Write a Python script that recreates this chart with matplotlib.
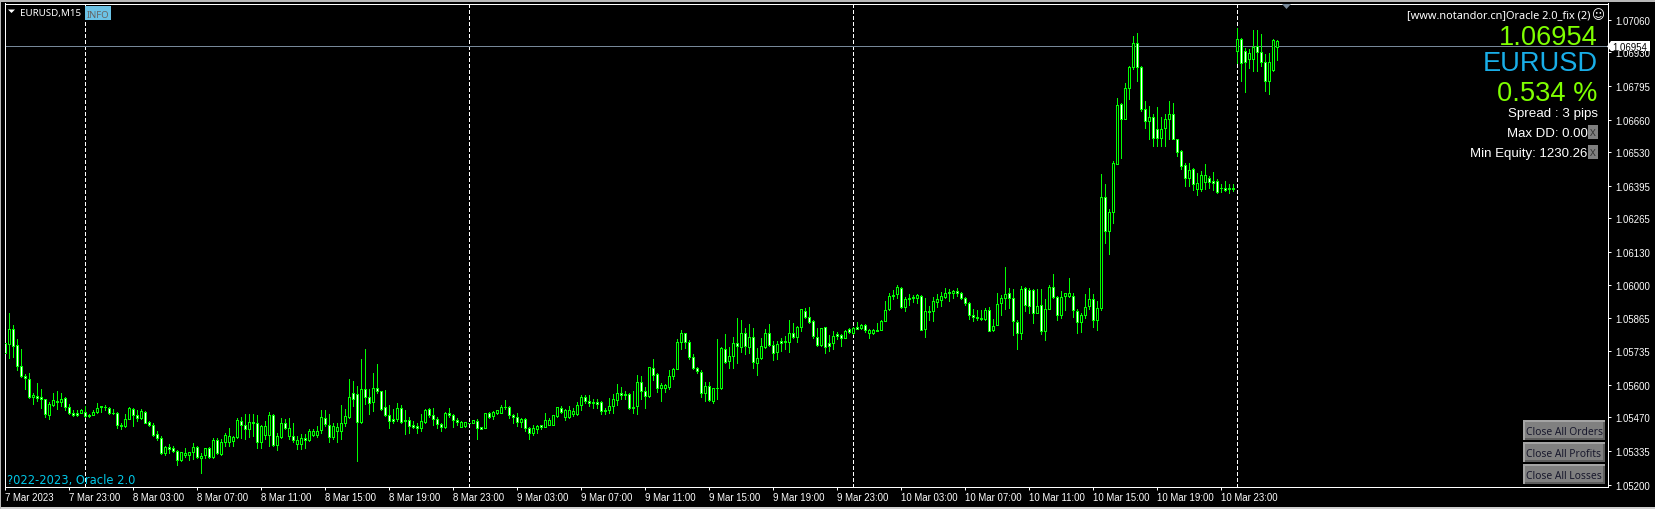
import matplotlib
matplotlib.use("Agg")
import matplotlib.pyplot as plt
import numpy as np
from matplotlib.patches import Polygon, Rectangle

W, H = 1655, 510
FONT = ["Liberation Sans", "DejaVu Sans"]
UI = ["Noto Sans", "DejaVu Sans"]
AX = ["Liberation Sans", "DejaVu Sans"]

# Prices are stored as points above 1.05000 (1 point = 0.00001)
highs = [
 774,885,837,784,741,641,645,565,605,581, 544,530,568,576,565,552,521,498,498,501,
 514,482,498,528,514,517,509,501,489,448, 481,509,508,498,504,496,454,445,414,394,
 354,361,354,338,332,348,332,368,354,325, 348,350,388,388,381,405,428,394,468,472,
 481,484,481,477,437,454,490,481,405,468, 461,468,448,394,401,401,421,424,434,497,
 498,481,448,448,517,501,621,614,594,704, 741,584,645,681,574,577,517,501,525,517,
 497,472,454,448,481,501,508,508,472,445, 490,505,481,468,454,452,448,460,464,432,
 488,490,494,498,517,537,513,484,485,465, 465,429,437,440,440,488,468,480,512,514,
 501,514,508,530,557,560,557,541,544,534, 508,548,561,601,590,574,565,574,637,634,
 592,672,701,645,605,604,657,665,781,817, 805,777,721,670,657,610,610,588,781,750,
 801,752,792,868,857,828,841,828,748,788, 821,841,774,774,788,794,857,848,834,904,
 908,912,858,828,828,832,798,814,812,804,817,825,830,852,844,841,824,821,848,857,
 933,968,978,997,992,952,961,957,961,957, 948,914,950,961,970,985,984,978,988,972,
 952,932,901,898,897,905,912,861,965,960, 1069,988,981,857,994,990,988,981,981,984,
 941,997,1041,954,974,968,1025,965,901,885, 961,988,961,933,1441,1401,1301,1494,1745,1725,
 1808,1874,1994,2005,1874,1734,1714,1681,1712,1672, 1681,1734,1728,1584,1538,1488,1488,1468,1448,1454,
 1481,1434,1450,1421,1404,1414,1404,1401,2028,1988, 1948,1941,2018,2018,2001,1921,1928,1984,1978,
]
body_tops = [
 765,821,821,757,674,634,624,560,554,549, 544,521,540,536,544,545,512,488,485,498,
 492,480,492,508,513,512,508,488,488,440, 464,508,504,477,493,492,450,440,404,388,
 352,350,345,336,329,328,329,350,352,314, 348,348,380,380,372,400,396,392,457,456,
 440,452,452,448,433,433,478,480,393,448, 448,428,394,378,388,388,413,416,416,472,
 468,440,433,432,448,474,549,565,564,581, 584,552,588,588,574,512,478,461,508,508,
 460,460,437,434,454,497,501,477,461,444, 488,488,480,460,452,449,448,460,456,430,
 485,485,489,497,512,512,512,480,472,464, 464,428,425,436,437,457,458,477,509,508,
 497,497,496,518,552,552,533,529,529,532, 500,516,541,568,568,564,562,512,612,612,
 574,669,668,644,600,600,636,664,769,805, 805,772,712,666,652,596,594,586,588,748,
 744,714,768,768,808,808,792,792,706,756, 808,808,760,764,773,774,808,808,832,901,
 896,872,856,792,828,829,768,796,801,800,816,821,825,829,840,840,820,817,820,856,
 900,956,958,992,988,944,945,949,957,954, 893,896,933,941,953,968,970,976,976,968,
 948,928,880,872,868,900,900,836,924,948, 964,968,948,852,984,988,980,980,916,920,
 904,992,992,952,952,968,968,956,896,880, 910,942,944,908,1352,1352,1292,1488,1717,1721,
 1785,1872,1968,1968,1872,1701,1672,1672,1621,1624, 1664,1684,1684,1584,1536,1478,1460,1461,1405,1438,
 1438,1428,1414,1413,1388,1388,1385,1388,1984,1984, 1934,1928,1950,1954,1932,1892,1892,1978,1976,
]
body_bottoms = [
 728,761,754,674,634,626,552,552,548,541, 481,478,518,530,530,512,485,478,480,488,
 474,474,480,492,510,509,485,486,437,436, 433,464,477,466,466,448,440,400,386,325,
 325,341,336,298,298,320,318,330,309,306, 317,312,309,325,322,369,370,374,390,437,
 421,421,446,370,370,400,400,357,357,390, 426,394,377,362,361,380,377,400,400,418,
 441,390,390,414,416,446,472,544,450,450, 550,525,530,573,504,477,454,454,464,450,
 454,434,432,428,425,450,478,461,441,432, 429,478,458,449,432,433,445,445,425,424,
 428,472,473,486,488,509,477,470,449,449, 425,405,408,421,432,429,438,438,474,492,
 472,472,481,481,518,534,525,525,522,494, 494,497,514,537,557,558,506,505,514,574,
 554,554,638,586,586,586,592,633,662,769, 769,709,665,653,565,566,537,536,586,586,
 690,693,714,754,750,754,752,690,685,706, 749,758,726,729,766,769,769,789,789,832,
 870,850,794,757,758,750,753,766,796,786,786,812,806,822,826,818,806,805,814,818,
 856,902,953,962,910,910,942,945,946,818, 822,890,894,929,938,950,968,966,966,945,
 928,878,870,865,861,864,816,817,838,926, 946,945,854,806,806,918,914,886,886,814,
 814,902,952,878,877,954,954,898,850,850, 877,913,858,858,908,1214,1214,1292,1484,1664,
 1664,1785,1870,1870,1701,1654,1654,1586,1586,1586, 1625,1664,1584,1530,1474,1428,1428,1404,1381,1381,
 1410,1410,1408,1372,1385,1378,1381,1382,1934,1888, 1890,1904,1904,1932,1892,1814,1814,1858,1950,
]
lows = [
 705,708,710,658,632,581,546,521,534,508, 472,461,514,501,514,498,482,474,474,485,
 472,472,477,488,490,498,481,484,428,421, 432,461,434,454,461,445,434,394,378,321,
 317,328,330,277,294,312,297,301,305,245, 308,308,305,321,320,354,354,354,388,388,
 384,392,394,348,348,384,354,354,338,386, 421,384,370,341,341,348,374,394,390,408,
 434,370,381,370,381,434,468,514,294,448, 521,481,494,568,498,474,428,448,454,448,
 401,408,428,408,414,448,472,437,428,413, 426,472,432,437,429,429,445,445,381,424,
 426,466,461,484,485,501,468,445,434,432, 414,381,400,408,421,429,437,437,472,488,
 458,468,474,478,497,528,514,508,506,481, 481,488,488,517,541,541,504,488,481,541,
 505,552,618,570,534,570,581,621,661,744, 748,704,661,648,552,536,536,525,541,584,
 688,668,665,688,730,721,728,668,637,704, 746,754,697,704,734,741,730,788,770,814,
 868,848,788,754,754,728,734,741,781,754,785,808,804,821,824,810,786,801,813,817,
 853,898,944,945,908,893,918,932,925,817, 790,857,853,910,914,948,934,945,954,941,
 917,861,853,858,857,857,813,814,837,877, 904,905,797,741,781,893,885,845,885,801,
 777,901,948,857,866,897,952,869,805,809, 866,901,829,817,898,1168,1121,1248,1481,1508,
 1664,1741,1861,1814,1694,1628,1581,1554,1554,1554, 1554,1581,1581,1514,1461,1394,1394,1377,1358,1374,
 1381,1388,1378,1368,1370,1374,1368,1374,1888,1814, 1770,1868,1854,1854,1874,1774,1761,1854,1898,
]
# W = falling bar (white body), B = rising bar (black body)
directions = (
 "WBWWWWWBWW" "WBBWBWWWWB" "WWBBWWWWWW" "BBWWBWWWWW" "BWWWBBBBWB" "BWBWBBBBBW"
 "WBWWBBBWBB" "WBWBBWBBBB" "WWBBBBBWWB" "WWBWWWWWBW" "WWWWBBWWWW" "BWWWBBWBWW"
 "BWBBBWWWWB" "WWBBWBBBBW" "BBBBBWWWWW" "WBBBWWWWBW" "WBWWBBBBBB" "WWWWWBWBBB"
 "WBBWBWBWBB" "BWWBWBBWBB" "WWWWBWWBWWBWBWBWBBWB" "BBWBWBWWBW" "BWBBBBWBWW"
 "WWWWWBWBBB" "BWWWBWWWBW" "BBWWBBBWWB" "BBWBBWBBBW" "BBBWWWBWWB" "BBWWWWBWBB"
 "BWWWWWBBBW" "WBBWWWBBB"
)
tick_bars = list(range(0, 305, 16))
tick_labels = ["7 Mar 2023", "7 Mar 23:00"] + [
    f"{d} Mar {h}" for d in (8, 9, 10) for h in ("03:00", "07:00", "11:00", "15:00", "19:00", "23:00")]
price_ticks = [1.07060, 1.06930, 1.06795, 1.06660, 1.06530, 1.06395, 1.06265, 1.06130,
               1.06000, 1.05865, 1.05735, 1.05600, 1.05470, 1.05335, 1.05200]
separators = [20, 116, 212, 308]
current_price = 1.06954

assert len(highs) == len(lows) == len(body_tops) == len(body_bottoms) == len(directions)
to_price = lambda a: 1.05 + np.array(a) * 1e-5
hi, lo, top, bot = map(to_price, (highs, lows, body_tops, body_bottoms))
bars = np.arange(len(hi))

fig = plt.figure(figsize=(W / 100, H / 100), dpi=100, facecolor="black")
ax = fig.add_axes([4.5 / W, 1 - 487.5 / H, 1603 / W, 483 / H], facecolor="black")
ax.set_xlim(-0.125, 400.625)
ax.set_ylim(1.05192, 1.07125)

LW = 0.72
LIME = "#00ff00"
for s in ax.spines.values():
    s.set_color("white")
    s.set_linewidth(LW)

for b in separators:
    ax.axvline(b, color="white", lw=LW, ls=(0, (4, 2.8)), zorder=1, antialiased=False)
ax.axhline(current_price, color="#778899", lw=LW, zorder=1.5, antialiased=False)

ax.vlines(bars, lo, hi, color=LIME, lw=LW, zorder=2, antialiased=False)
faces = ["white" if d == "W" else "black" for d in directions]
ax.bar(bars, top - bot, bottom=bot, width=0.5, color=faces, edgecolor=LIME,
       linewidth=LW, zorder=3, antialiased=False)

ax.yaxis.tick_right()
ax.set_yticks(price_ticks)
ax.set_yticklabels([f"{p:.5f}" for p in price_ticks], family=AX, fontsize=6.9, color="white")
ax.set_xticks(tick_bars)
ax.set_xticklabels(tick_labels, family=AX, fontsize=6.9, color="white", ha="left")
ax.tick_params(axis="both", color="white", length=2.5, width=LW, pad=3)
ax.tick_params(axis="x", pad=1.5)


def X(x):
    return x / W


def Y(y):
    return 1 - y / H


def label(x, y, s, color="white", size=10, ha="right", family=FONT, **kw):
    fig.text(X(x), Y(y), s, color=color, fontsize=size, ha=ha, va="center_baseline",
             family=family, zorder=10, **kw)


def box(x0, y0, x1, y1, color, z=8):
    fig.add_artist(Rectangle((X(x0), Y(y1)), (x1 - x0) / W, (y1 - y0) / H, transform=fig.transFigure,
                             facecolor=color, edgecolor="none", zorder=z))


def poly(points, color, z=8):
    fig.add_artist(Polygon([(X(a), Y(b)) for a, b in points], closed=True, transform=fig.transFigure,
                           facecolor=color, edgecolor="none", zorder=z))


# window edges
box(0, 0, W, 2.5, "#b8b8b8", 1)
box(0, 508, W, H, "#d0d0d0", 1)
box(0, 0, 1, H, "#b8b8b8", 1)

# header
poly([(8, 10.5), (15, 10.5), (11.5, 14)], "white")
label(20, 12.5, "EURUSD,M15", size=7.0, ha="left", family=UI)
box(85, 7, 111, 21, "#6cc3e6")
label(98, 14.5, "INFO", color="#666666", size=6.8, ha="center", family=UI)
poly([(1282, 5), (1291, 5), (1286.5, 10)], "#778899")

# right-hand panel
label(1590, 14, "[www.notandor.cn]Oracle 2.0_fix (2)", size=7.9, family=UI)
label(1598, 14, "\u263a", size=9, ha="center", family=["DejaVu Sans"])
label(1597.5, 35, "1.06954", color="#7fff00", size=19.6)
label(1597.5, 61, "EURUSD", color="#19aee8", size=19.6)
label(1597.5, 91, "0.534 %", color="#7fff00", size=19.6)
label(1597.5, 113, "Spread : 3 pips", size=9.6)
label(1587.5, 133, "Max DD: 0.00", size=9.5)
label(1587.5, 153, "Min Equity: 1230.26", size=9.5)
for yc in (133, 153):
    box(1588, yc - 7, 1598, yc + 7, "#808080")
    label(1593, yc, "X", color="#303030", size=7, ha="center", family=UI)

# current price tag
poly([(1607, 47.5), (1611, 42), (1650, 42), (1650, 52), (1611, 52)], "white", 9)
label(1630, 47, "1.06954", color="black", size=6.9, ha="center", family=AX)

# footer text and buttons
label(7, 479, "?022-2023, Oracle 2.0", color="#00c8e8", size=8.3, ha="left", family=["DejaVu Sans"])
for (y0, y1), s in zip([(421, 441), (443, 463), (465, 485)],
                       ["Close All Orders", "Close All Profits", "Close All Losses"]):
    box(1523, y0, 1605, y1, "#a4a4a4", 8)
    box(1525, y0 + 2, 1605, y1, "#5e5e5e", 8.1)
    box(1525, y0 + 2, 1603, y1 - 2, "#808080", 8.2)
    label(1564, (y0 + y1) / 2 + 0.5, s, color="#18182c", size=7.4, ha="center", family=UI)

fig.savefig("out.png", dpi=100, facecolor="black")
